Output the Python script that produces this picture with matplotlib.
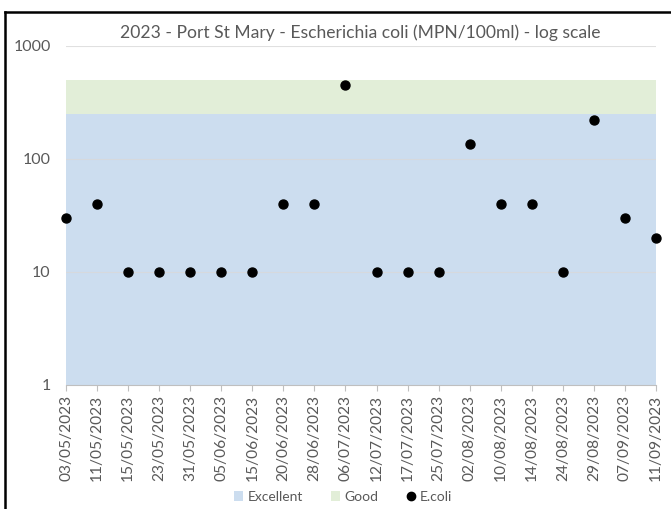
import matplotlib
matplotlib.use("Agg")
import matplotlib.pyplot as plt
from matplotlib.lines import Line2D
from matplotlib.patches import Patch

plt.rcParams['font.family'] = ['Lato', 'DejaVu Sans']

dates = ["03/05/2023", "11/05/2023", "15/05/2023", "23/05/2023", "31/05/2023",
         "05/06/2023", "15/06/2023", "20/06/2023", "28/06/2023", "06/07/2023",
         "12/07/2023", "17/07/2023", "25/07/2023", "02/08/2023", "10/08/2023",
         "14/08/2023", "24/08/2023", "29/08/2023", "07/09/2023", "11/09/2023"]
ecoli = [30, 40, 10, 10, 10, 10, 10, 40, 40, 450,
         10, 10, 10, 135, 40, 40, 10, 220, 30, 20]
excellent_limit = 250
good_limit = 500

title = "2023 - Port St Mary - Escherichia coli (MPN/100ml) - log scale"
gray = "#595959"
blue = "#CCDDEF"
green = "#E2EED8"

fig = plt.figure(figsize=(6.71, 5.09), dpi=100)
ax = fig.add_axes([66/671, 1-385/509, (656-66)/671, (385-45.5)/509])

x = list(range(len(dates)))
ax.set_yscale('log')
ax.set_ylim(1, 1000)
ax.set_xlim(0, len(dates)-1)

ax.fill_between(x, 1, [excellent_limit]*len(x), color=blue, lw=0, zorder=1)
ax.fill_between(x, [excellent_limit]*len(x), [good_limit]*len(x), color=green, lw=0, zorder=1)
for v in [10, 100, 1000]:
    ax.axhline(v, color="#D9D9D9", lw=0.8, zorder=2, alpha=0.8)
ax.scatter(x, ecoli, s=42, color="black", zorder=4, clip_on=False)

ax.set_xticks(x)
ax.set_xticklabels(dates, rotation=90, fontsize=11.2, color=gray)
ax.set_yticks([1, 10, 100, 1000])
ax.set_yticklabels(["1", "10", "100", "1000"], fontsize=11.5, color=gray)
ax.minorticks_off()
ax.tick_params(axis='y', length=0, pad=11)
ax.tick_params(axis='x', length=4, color="#BFBFBF", pad=3)
for s in ['top', 'right', 'left']:
    ax.spines[s].set_visible(False)
ax.spines['bottom'].set_color("#BFBFBF")
ax.spines['bottom'].set_zorder(3)

fig.text(360/671, 1-33/509, title, ha='center', va='center', fontsize=12.6, color=gray)

handles = [Patch(facecolor=blue, edgecolor='none'),
           Patch(facecolor=green, edgecolor='none'),
           Line2D([], [], marker='o', color='black', ls='none', markersize=6)]
fig.legend(handles, ["Excellent", "Good", "E.coli"], loc='center',
           bbox_to_anchor=(343/671, 1-497/509), ncol=3, frameon=False,
           fontsize=10, labelcolor=gray, handlelength=0.7, handleheight=0.7,
           handletextpad=0.3, columnspacing=2.0)

# screenshot frame
fig.add_artist(Line2D([5/671, 5/671], [0, 1-12/509], transform=fig.transFigure, color='black', lw=1.8))
fig.add_artist(Line2D([5/671, 1], [1-12/509, 1-12/509], transform=fig.transFigure, color='black', lw=1.8))

fig.savefig("out.png", dpi=100)
